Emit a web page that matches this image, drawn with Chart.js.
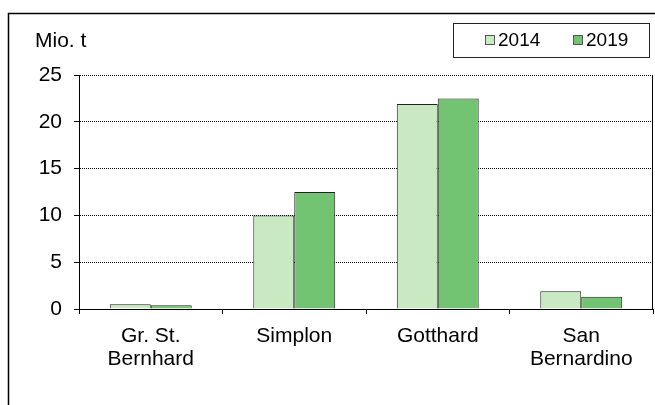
<!DOCTYPE html>
<html>
<head>
<meta charset="utf-8">
<script src="https://cdn.jsdelivr.net/npm/chart.js@4"></script>
<style>
html,body{margin:0;padding:0;background:#fff;}
#wrap{width:655px;height:405px;position:relative;}
</style>
</head>
<body>
<div id="wrap"><canvas id="c" width="655" height="405"></canvas></div>
<script>
const categories = [['Gr. St.', 'Bernhard'], 'Simplon', 'Gotthard', ['San', 'Bernardino']];
const seriesNames = ['2014', '2019'];
const values2014 = [0.5, 10.0, 21.9, 1.9];
const values2019 = [0.4, 12.5, 22.5, 1.3];
const yTicks = [0, 5, 10, 15, 20, 25];
const unitLabel = 'Mio. t';

const FONT = '"Liberation Sans", Arial, sans-serif';
const colors = ['#c8e9c1', '#72c472'];

const decor = {
  id: 'decor',
  afterDraw(chart) {
    const ctx = chart.ctx;
    const ca = chart.chartArea;
    ctx.save();
    // outer frame (top and left visible)
    ctx.strokeStyle = '#000';
    ctx.lineWidth = 1.5;
    ctx.beginPath();
    ctx.moveTo(8.5, 405);
    ctx.lineTo(8.5, 13.5);
    ctx.lineTo(655, 13.5);
    ctx.stroke();
    // plot area right border
    ctx.lineWidth = 1;
    ctx.beginPath();
    ctx.moveTo(Math.round(ca.right) - 0.5, ca.top);
    ctx.lineTo(Math.round(ca.right) - 0.5, ca.bottom);
    ctx.stroke();
    // unit label
    ctx.fillStyle = '#000';
    ctx.font = '21px ' + FONT;
    ctx.textBaseline = 'middle';
    ctx.textAlign = 'left';
    ctx.fillText(unitLabel, 35, 41);
    // legend box
    ctx.font = '19px ' + FONT;
    ctx.strokeStyle = '#222';
    ctx.lineWidth = 1;
    ctx.strokeRect(453.5, 23.5, 196, 34);
    const items = chart.data.datasets;
    const xs = [485, 573];
    items.forEach((ds, i) => {
      ctx.fillStyle = ds.backgroundColor;
      ctx.fillRect(xs[i] + 0.5, 35.5, 9, 9);
      ctx.strokeStyle = '#555';
      ctx.strokeRect(xs[i] + 0.5, 35.5, 9, 9);
      ctx.fillStyle = '#000';
      ctx.fillText(ds.label, xs[i] + 13, 41);
    });
    ctx.restore();
  }
};

new Chart(document.getElementById('c'), {
  type: 'bar',
  data: {
    labels: categories,
    datasets: [
      { label: seriesNames[0], data: values2014, backgroundColor: colors[0], borderColor: '#222', borderWidth: 1, categoryPercentage: 0.571, barPercentage: 1 },
      { label: seriesNames[1], data: values2019, backgroundColor: colors[1], borderColor: '#222', borderWidth: 1, categoryPercentage: 0.571, barPercentage: 1 }
    ]
  },
  options: {
    responsive: false,
    animation: false,
    devicePixelRatio: 1,
    layout: { padding: { top: 75, right: 2, left: 0, bottom: 0 } },
    plugins: { legend: { display: false }, tooltip: { enabled: false }, title: { display: false } },
    scales: {
      x: {
        offset: true,
        grid: { offset: true, drawOnChartArea: false, drawTicks: true, tickLength: 5, color: '#000', lineWidth: 1 },
        border: { display: true, color: '#000', width: 1 },
        ticks: { color: '#000', font: { family: FONT, size: 21, lineHeight: 1.1 }, padding: 11, maxRotation: 0, autoSkip: false },
        afterFit(scale) { scale.height = 96; }
      },
      y: {
        min: 0,
        max: 25,
        afterBuildTicks(scale) { scale.ticks = yTicks.map(v => ({ value: v })); },
        grid: { drawOnChartArea: true, drawTicks: true, tickLength: 5, color: '#000', tickColor: '#000', lineWidth: 1 },
        border: { display: true, color: '#000', width: 1, dash: [1, 1] },
        ticks: { color: '#000', font: { family: FONT, size: 21 }, padding: 12 },
        afterFit(scale) { scale.width = 79; }
      }
    }
  },
  plugins: [decor]
});
</script>
</body>
</html>
